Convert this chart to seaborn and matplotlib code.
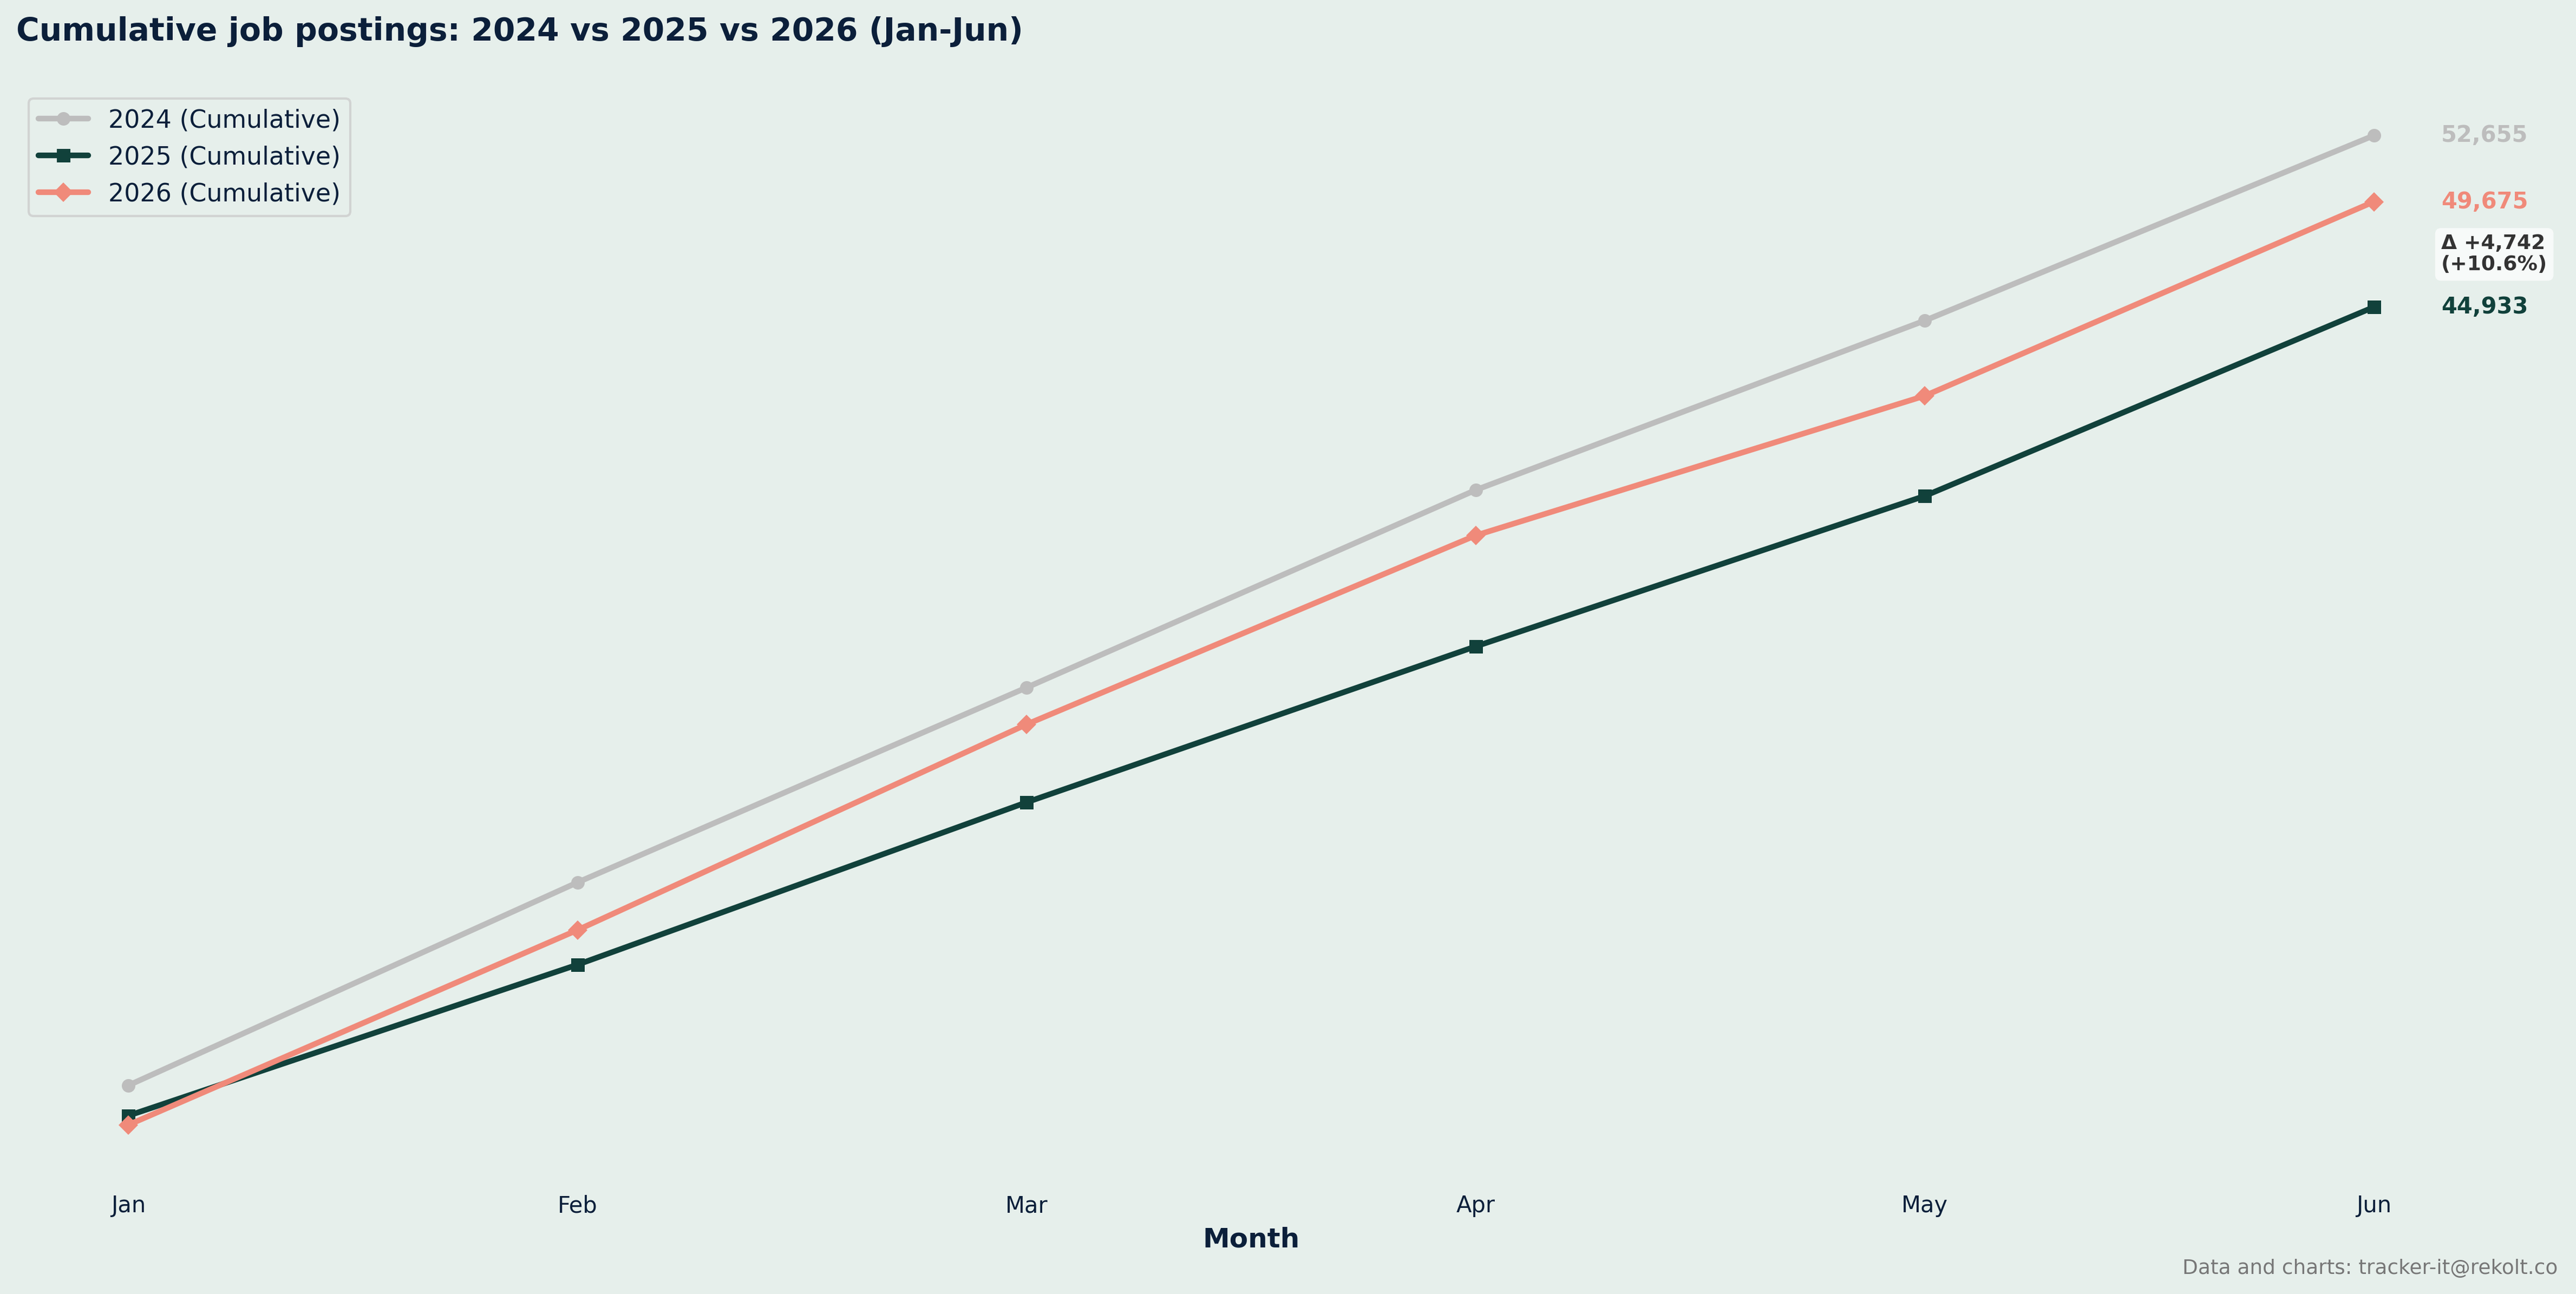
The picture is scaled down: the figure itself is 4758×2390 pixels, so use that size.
import seaborn as sns
import matplotlib.pyplot as plt

# values
months = ['Jan', 'Feb', 'Mar', 'Apr', 'May', 'Jun']
cum_2024 = [9903, 19038, 27808, 36699, 44324, 52655]
cum_2025 = [8539, 15335, 22643, 29659, 36431, 44933]
cum_2026 = [8125, 16895, 26151, 34653, 40938, 49675]

BG = '#e6efeb'
NAVY = '#0b1f3a'
GRAY = '#bdbdbd'
GREEN = '#11413b'
SALMON = '#f08a7a'

sns.set_style('white', rc={'axes.facecolor': BG, 'figure.facecolor': BG})
plt.rcParams['font.family'] = ['DejaVu Sans']

fig = plt.figure(figsize=(4758 / 300, 2390 / 300), dpi=300)
ax = fig.add_axes([0.0063, 0.0925, 0.9588, 0.841])

series = [
    ('2024 (Cumulative)', cum_2024, GRAY, 'o'),
    ('2025 (Cumulative)', cum_2025, GREEN, 's'),
    ('2026 (Cumulative)', cum_2026, SALMON, 'D'),
]
for label, vals, col, mk in series:
    sns.lineplot(x=months, y=vals, ax=ax, color=col, marker=mk, markersize=6,
                 markeredgewidth=0, linewidth=2.5, label=label, sort=False)

# end labels
for label, vals, col, mk in series:
    ax.text(5.15, vals[-1], f'{vals[-1]:,}', color=col, fontsize=10,
            fontweight='bold', ha='left', va='center', clip_on=False)

diff = cum_2026[-1] - cum_2025[-1]
pct = diff / cum_2025[-1] * 100
ax.text(5.15, (cum_2026[-1] + cum_2025[-1]) / 2,
        f'\u0394 +{diff:,}\n(+{pct:.1f}%)', color='#333333', fontsize=9,
        fontweight='bold', ha='left', va='center', linespacing=1.1,
        bbox=dict(boxstyle='round,pad=0.3', facecolor='white', edgecolor='none', alpha=0.7),
        clip_on=False)

for s in ax.spines.values():
    s.set_visible(False)
ax.set_yticks([])
ax.set_ylabel('')
ax.tick_params(axis='x', length=0, pad=9, labelsize=10, labelcolor=NAVY)
ax.set_xlabel('Month', fontsize=12, fontweight='bold', color=NAVY, labelpad=4)

leg = ax.legend(loc='upper left', fontsize=11, labelspacing=0.5, frameon=True)
for t in leg.get_texts():
    t.set_color(NAVY)

fig.text(0.0063, 0.9686, 'Cumulative job postings: 2024 vs 2025 vs 2026 (Jan-Jun)',
         fontsize=14, fontweight='bold', color=NAVY, ha='left', va='baseline')
fig.text(0.9929, 0.012, 'Data and charts: tracker-it@rekolt.co', fontsize=9,
         color='#777777', ha='right', va='bottom')

fig.savefig('out.png', dpi=300, facecolor=BG)
